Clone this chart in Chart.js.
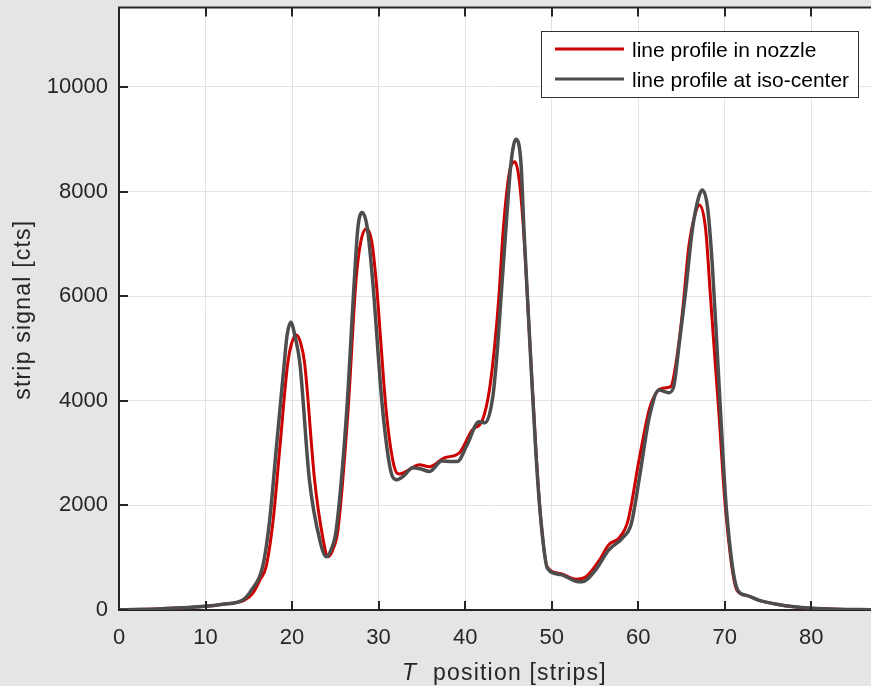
<!DOCTYPE html>
<html>
<head>
<meta charset="utf-8">
<script src="https://cdn.jsdelivr.net/npm/chart.js@4.4.0/dist/chart.umd.min.js"></script>
<style>
  html, body { margin: 0; padding: 0; background: #e5e5e5; }
  #wrap { width: 871px; height: 686px; }
</style>
</head>
<body>
<div id="wrap"><canvas id="c" width="871" height="686"></canvas></div>
<script>
// ---- data ----
const nozzleX = [0,5,10,12,14.5,15.5,16.3,17.0,17.8,18.6,19.5,19.95,20.5,21.0,21.45,22.6,23.6,24.15,24.7,25.3,26.45,27.4,27.95,28.6,29.2,29.7,30.9,31.8,32.4,33.5,34.7,35.9,37.6,39.3,40.8,42.0,42.8,43.4,43.9,44.4,45.1,45.75,46.25,46.75,47.4,48.2,48.75,49.5,51.0,52.8,54.0,55.5,56.6,57.8,58.8,60.1,61.3,62.2,62.8,63.75,64.3,65.1,65.85,66.6,67.1,67.8,68.35,68.9,69.3,70.1,71.4,72.5,73.9,76,78,80,83,86.9];
const nozzleY = [5,25,70,110,190,330,580,830,1700,3130,4720,5100,5260,5100,4720,2490,1340,1020,1150,1530,3770,6320,7050,7290,7050,6320,3770,2740,2600,2680,2775,2740,2910,3000,3440,3630,4200,5035,5990,7265,8355,8570,8220,7265,5350,3000,1720,820,700,590,640,950,1250,1380,1700,2870,3850,4180,4240,4270,4650,5670,6950,7585,7745,7265,5990,4720,3820,1910,380,280,190,110,60,35,15,5];
const isoX = [0,5,10,12,14.3,15.3,16.6,17.4,18.2,19.1,19.4,19.85,20.35,20.9,22.0,23.2,23.95,24.5,25.1,26.3,27.2,27.6,28.1,28.7,29.3,30.5,31.6,32.1,33.0,33.9,34.8,35.9,37.3,38.4,39.1,40.2,41.6,42.3,43.2,43.75,44.15,44.7,45.3,45.87,46.45,46.8,47.2,47.6,48.2,48.75,49.5,51.0,52.8,53.5,55.0,56.6,58.2,59.2,60.1,61.3,62.4,63.55,64.1,64.7,65.5,66.25,67.0,67.4,68.0,68.55,69.1,69.5,70.2,71.5,72.5,73.9,76,78,80,83,86.9];
const isoY = [5,25,70,110,190,380,830,1700,3130,4720,5226,5500,5226,4720,2490,1340,1020,1150,1530,3770,6320,7300,7600,7300,6320,3770,2550,2490,2580,2720,2700,2650,2850,2840,2840,3150,3600,3580,4080,5035,5990,7265,8545,9000,8545,7265,5990,4720,2930,1720,800,680,550,540,750,1150,1380,1650,2490,3700,4205,4155,4270,5035,6120,7265,7900,8030,7710,6630,5035,3820,1910,380,280,190,110,60,35,15,5];
const seriesLabels = ['line profile in nozzle', 'line profile at iso-center'];
const xTicks = [0,10,20,30,40,50,60,70,80];
const yTicks = [0,2000,4000,6000,8000,10000];
const xRange = [0, 86.9];
const yRange = [0, 11520];
const xTitleItalic = 'T';
const xTitleRest = 'position [strips]';
const yTitle = 'strip signal [cts]';

const FONT = "'Liberation Sans', Arial, Helvetica, sans-serif";
const AXIS = '#262626';

const toPts = (xs, ys) => xs.map((x, i) => ({ x: x, y: ys[i] }));

const bgPlugin = {
  id: 'bg',
  beforeDraw(chart) {
    const { ctx, chartArea: a } = chart;
    ctx.save();
    ctx.fillStyle = '#e5e5e5';
    ctx.fillRect(0, 0, chart.width, chart.height);
    ctx.fillStyle = '#ffffff';
    ctx.fillRect(a.left, a.top, a.right - a.left, a.bottom - a.top);
    ctx.restore();
  }
};

const decorPlugin = {
  id: 'decor',
  afterDraw(chart) {
    const { ctx, chartArea: a } = chart;
    const xs = chart.scales.x, ys = chart.scales.y;
    ctx.save();
    // top axis line
    ctx.strokeStyle = AXIS;
    ctx.lineWidth = 2;
    ctx.beginPath();
    ctx.moveTo(a.left - 1, a.top);
    ctx.lineTo(a.right, a.top);
    ctx.stroke();
    // inward ticks
    const tl = 9;
    ctx.beginPath();
    xTicks.forEach(v => {
      const px = Math.round(xs.getPixelForValue(v));
      ctx.moveTo(px, a.bottom); ctx.lineTo(px, a.bottom - tl);
      ctx.moveTo(px, a.top); ctx.lineTo(px, a.top + tl);
    });
    yTicks.forEach(v => {
      const py = Math.round(ys.getPixelForValue(v));
      ctx.moveTo(a.left, py); ctx.lineTo(a.left + tl, py);
    });
    ctx.stroke();

    // legend
    const bx = a.right - 330, by = a.top + 23.5, bw = 317, bh = 66;
    ctx.fillStyle = '#ffffff';
    ctx.fillRect(bx, by, bw, bh);
    ctx.strokeStyle = '#333333';
    ctx.lineWidth = 1;
    ctx.strokeRect(bx + 0.5, by + 0.5, bw, bh);
    chart.data.datasets.forEach((ds, i) => {
      const ly = by + 18 + i * 30;
      ctx.strokeStyle = ds.borderColor;
      ctx.lineWidth = 3;
      ctx.beginPath();
      ctx.moveTo(bx + 14, ly);
      ctx.lineTo(bx + 83, ly);
      ctx.stroke();
      ctx.fillStyle = '#000000';
      ctx.font = '21px ' + FONT;
      ctx.textAlign = 'left';
      ctx.textBaseline = 'alphabetic';
      ctx.fillText(ds.label, bx + 91, ly + 8.4);
    });

    // axis titles
    ctx.fillStyle = AXIS;
    ctx.textBaseline = 'alphabetic';
    ctx.textAlign = 'left';
    try { ctx.letterSpacing = '1.2px'; } catch (e) {}
    ctx.font = 'italic 23px ' + FONT;
    ctx.fillText(xTitleItalic, a.left + 283, 680);
    ctx.font = '23px ' + FONT;
    ctx.fillText(xTitleRest, a.left + 314, 680);

    ctx.translate(30, (a.top + a.bottom) / 2 + 1);
    ctx.rotate(-Math.PI / 2);
    ctx.textAlign = 'center';
    ctx.fillText(yTitle, 0, 0);
    ctx.restore();
  }
};

new Chart(document.getElementById('c'), {
  type: 'line',
  data: {
    datasets: [
      {
        label: seriesLabels[0],
        data: toPts(nozzleX, nozzleY),
        borderColor: '#cc0000',
        borderWidth: 3,
        pointRadius: 0,
        fill: false,
        cubicInterpolationMode: 'monotone',
        order: 1
      },
      {
        label: seriesLabels[1],
        data: toPts(isoX, isoY),
        borderColor: '#4d4d4d',
        borderWidth: 3.5,
        pointRadius: 0,
        fill: false,
        cubicInterpolationMode: 'monotone',
        order: 0
      }
    ]
  },
  options: {
    responsive: false,
    animation: false,
    devicePixelRatio: 1,
    layout: { padding: { top: 7.5, right: 0, left: 0, bottom: 0 } },
    plugins: { legend: { display: false }, tooltip: { enabled: false }, title: { display: false } },
    scales: {
      x: {
        type: 'linear',
        min: xRange[0], max: xRange[1],
        afterBuildTicks(s) { s.ticks = xTicks.map(v => ({ value: v })); },
        afterFit(s) { s.height = 76; s.paddingLeft = 0; s.paddingRight = 0; },
        ticks: {
          autoSkip: false, maxRotation: 0, includeBounds: false,
          color: AXIS, padding: 15,
          font: { family: FONT, size: 22 },
          callback: v => String(v)
        },
        grid: { color: '#e3e3e3', lineWidth: 1, drawTicks: false },
        border: { display: true, color: AXIS, width: 2 }
      },
      y: {
        type: 'linear',
        min: yRange[0], max: yRange[1],
        afterBuildTicks(s) { s.ticks = yTicks.map(v => ({ value: v })); },
        afterFit(s) { s.width = 119; s.paddingTop = 0; s.paddingBottom = 0; },
        ticks: {
          autoSkip: false, includeBounds: false,
          color: AXIS, padding: 11,
          font: { family: FONT, size: 22 },
          callback: v => String(v)
        },
        grid: { color: '#e3e3e3', lineWidth: 1, drawTicks: false },
        border: { display: true, color: AXIS, width: 2 }
      }
    }
  },
  plugins: [bgPlugin, decorPlugin]
});
</script>
</body>
</html>
